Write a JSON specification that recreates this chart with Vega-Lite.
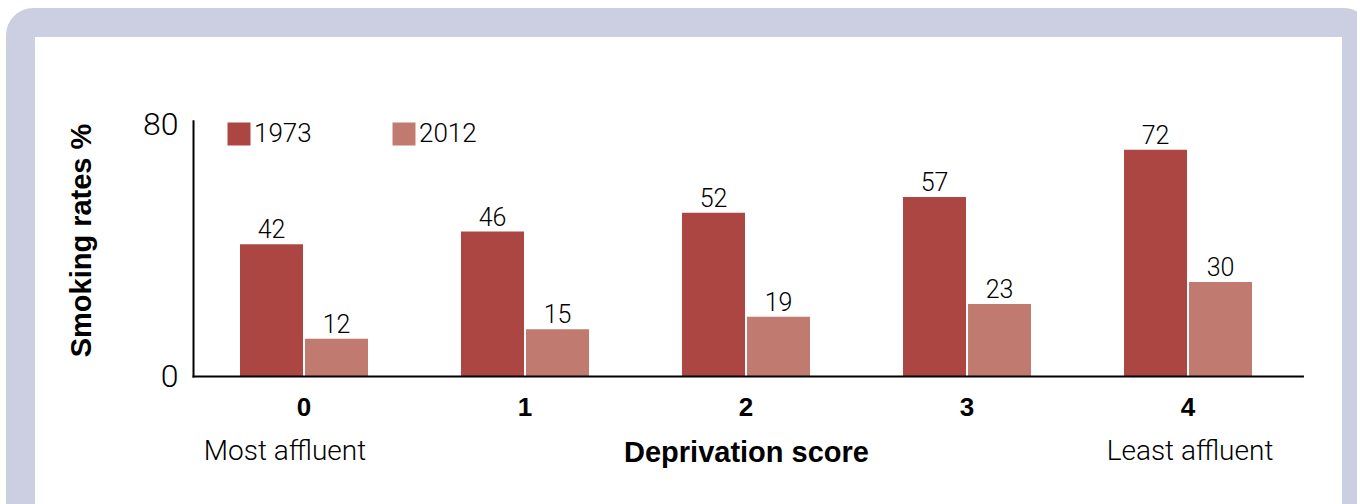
{
  "$schema": "https://vega.github.io/schema/vega-lite/v6.json",
  "width": 1336,
  "height": 496,
  "autosize": {"type": "none"},
  "padding": {"left": 20.5, "top": 22.5, "right": 0, "bottom": -14.5},
  "background": "white",
  "config": {
    "view": {"fill": "white", "stroke": "#cccee2", "strokeWidth": 29, "cornerRadius": 13},
    "font": "Roboto"
  },
  "datasets": {
    "rates": [
      {"cat": "0", "year": "1973", "value": 42},
      {"cat": "0", "year": "2012", "value": 12},
      {"cat": "1", "year": "1973", "value": 46},
      {"cat": "1", "year": "2012", "value": 15},
      {"cat": "2", "year": "1973", "value": 52},
      {"cat": "2", "year": "2012", "value": 19},
      {"cat": "3", "year": "1973", "value": 57},
      {"cat": "3", "year": "2012", "value": 23},
      {"cat": "4", "year": "1973", "value": 72},
      {"cat": "4", "year": "2012", "value": 30}
    ],
    "notes": [
      {"cat": "0", "note": "Most affluent"},
      {"cat": "4", "note": "Least affluent"}
    ],
    "one": [{"k": 1}]
  },
  "layer": [
    {
      "data": {"name": "rates"},
      "mark": {"type": "bar"},
      "encoding": {
        "x": {
          "field": "cat",
          "type": "nominal",
          "sort": ["0", "1", "2", "3", "4"],
          "scale": {"domain": ["0", "1", "2", "3", "4"], "paddingInner": 0, "paddingOuter": 0.5226, "align": 0.749},
          "axis": {
            "orient": "bottom",
            "offset": -142,
            "domain": false,
            "ticks": false,
            "grid": false,
            "labelAngle": 0,
            "labelFont": "Liberation Sans",
            "labelFontWeight": "bold",
            "labelFontSize": 26,
            "labelColor": "black",
            "labelPadding": 18,
            "labelBaseline": "top",
            "title": "Deprivation score",
            "titleFont": "Liberation Sans",
            "titleFontSize": 29,
            "titleFontWeight": "bold",
            "titleColor": "black",
            "titleX": 725.5,
            "titleY": 75.5,
            "titleBaseline": "middle",
            "titleAlign": "center"
          }
        },
        "y": {
          "field": "value",
          "type": "quantitative",
          "scale": {"domain": [-45.079, 112.381], "nice": false, "zero": false},
          "axis": {
            "values": [0, 80],
            "offset": -172.5,
            "domain": false,
            "ticks": false,
            "grid": false,
            "labelFont": "Roboto",
            "labelFontWeight": 300,
            "labelFontSize": 32,
            "labelColor": "black",
            "labelPadding": 15,
            "title": "Smoking rates %",
            "titleFont": "Liberation Sans",
            "titleFontWeight": "bold",
            "titleFontSize": 29,
            "titleColor": "black",
            "titleX": -112,
            "titleY": 217.5,
            "titleAngle": -90,
            "titleBaseline": "middle",
            "titleAlign": "center"
          }
        },
        "xOffset": {"field": "year", "type": "nominal", "scale": {"paddingInner": 0.0308, "paddingOuter": 0.7155}},
        "color": {
          "field": "year",
          "type": "nominal",
          "scale": {"domain": ["1973", "2012"], "range": ["#ab4642", "#c17a6f"]},
          "legend": {
            "orient": "none",
            "legendX": 205.5,
            "legendY": 98.5,
            "direction": "horizontal",
            "title": null,
            "symbolType": "square",
            "symbolSize": 529,
            "symbolStrokeWidth": 0,
            "symbolOpacity": 1,
            "labelFont": "Roboto",
            "labelFontWeight": 300,
            "labelFontSize": 26,
            "labelColor": "black",
            "labelOffset": 2,
            "columnPadding": 79,
            "padding": 0
          }
        }
      }
    },
    {
      "data": {"name": "rates"},
      "mark": {"type": "text", "font": "Roboto", "fontWeight": 300, "fontSize": 25, "color": "black", "baseline": "alphabetic", "dy": -6},
      "encoding": {
        "x": {"field": "cat", "type": "nominal", "title": "Deprivation score"},
        "y": {"field": "value", "type": "quantitative", "title": "Smoking rates %"},
        "xOffset": {"field": "year", "type": "nominal"},
        "text": {"field": "value", "type": "quantitative"}
      }
    },
    {
      "data": {"name": "one"},
      "mark": {"type": "rule", "color": "black", "strokeWidth": 2, "strokeCap": "square"},
      "encoding": {
        "x": {"datum": "0", "bandPosition": 0},
        "y": {"datum": 0},
        "y2": {"datum": 81}
      }
    },
    {
      "data": {"name": "one"},
      "mark": {"type": "rule", "color": "black", "strokeWidth": 2, "strokeCap": "square"},
      "encoding": {
        "x": {"datum": "0", "bandPosition": 0},
        "x2": {"datum": "4", "bandPosition": 1.02},
        "y": {"datum": 0}
      }
    },
    {
      "data": {"name": "notes"},
      "transform": [{"filter": "datum.cat == '0'"}],
      "mark": {"type": "text", "font": "Roboto", "fontWeight": 300, "fontSize": 28, "color": "black", "baseline": "middle", "dx": -19},
      "encoding": {
        "x": {"field": "cat", "type": "nominal", "title": "Deprivation score"},
        "y": {"datum": -24},
        "text": {"field": "note", "type": "nominal"}
      }
    },
    {
      "data": {"name": "notes"},
      "transform": [{"filter": "datum.cat == '4'"}],
      "mark": {"type": "text", "font": "Roboto", "fontWeight": 300, "fontSize": 28, "color": "black", "baseline": "middle", "dx": 2},
      "encoding": {
        "x": {"field": "cat", "type": "nominal", "title": "Deprivation score"},
        "y": {"datum": -24},
        "text": {"field": "note", "type": "nominal"}
      }
    }
  ]
}
